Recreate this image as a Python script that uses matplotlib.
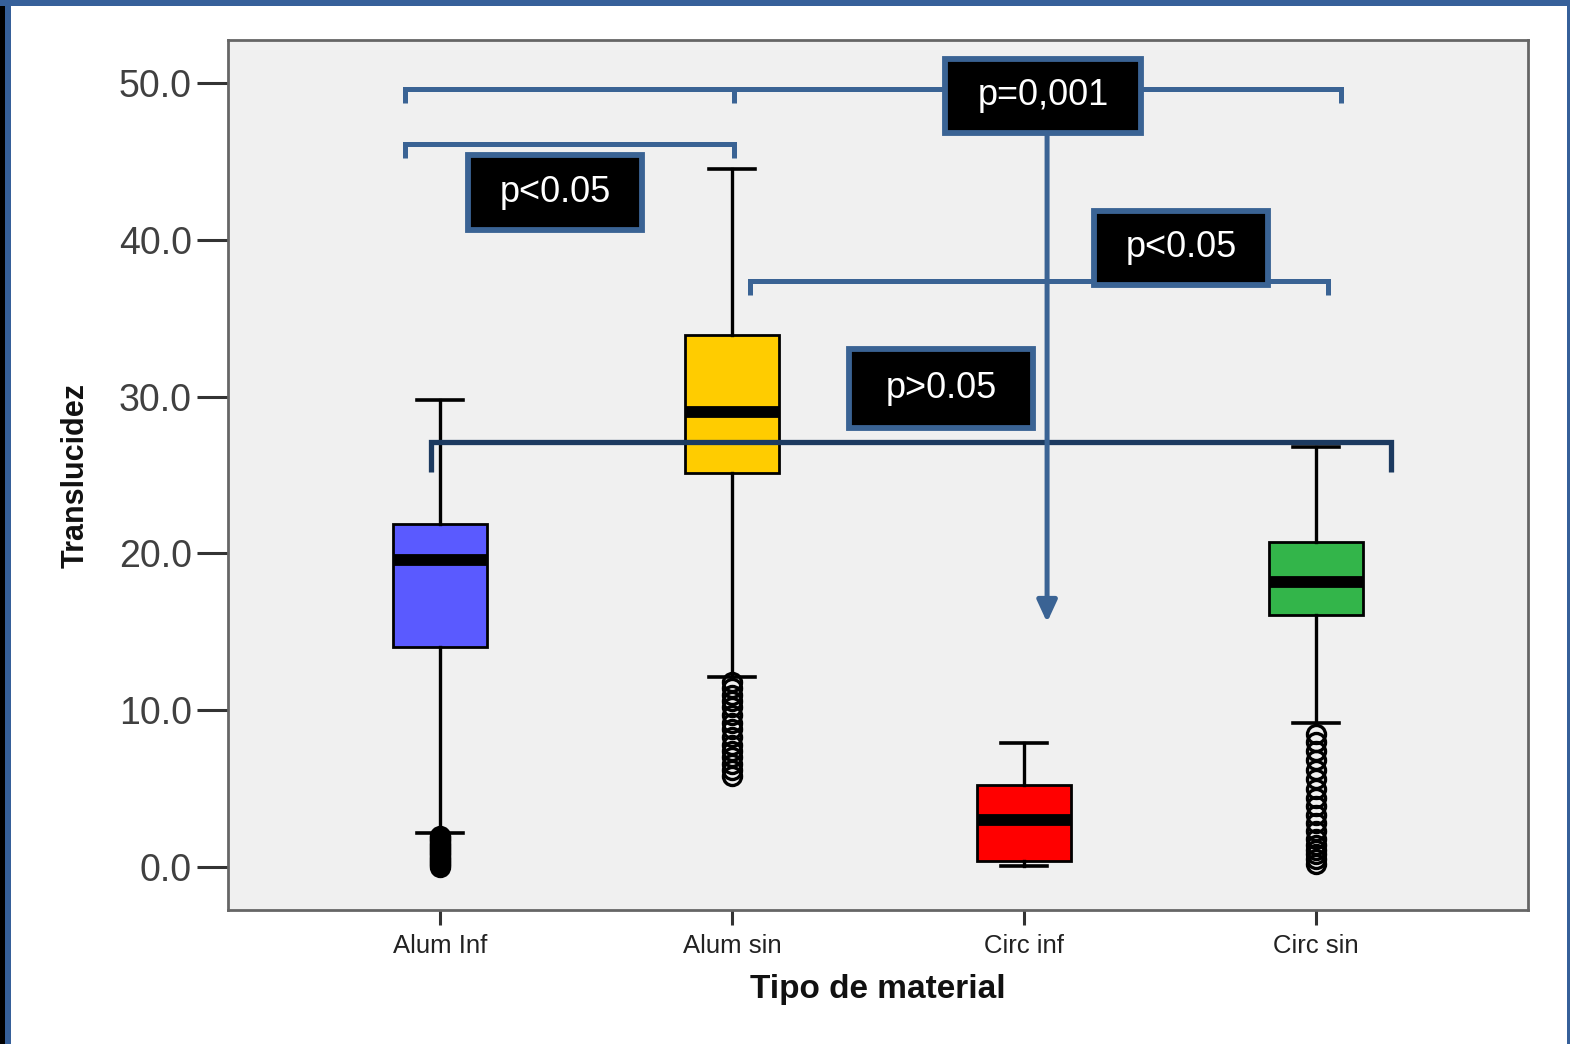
import matplotlib
matplotlib.use("Agg")
import matplotlib.pyplot as plt
import matplotlib.patches as mpatches

plt.rcParams["font.family"] = ["Liberation Sans", "DejaVu Sans"]

# Box summary (Translucidez)
categories = ["Alum Inf", "Alum sin", "Circ inf", "Circ sin"]
whisker_lo = [2.2, 12.1, 0.05, 9.2]
q1 = [14.0, 25.1, 0.4, 16.1]
median = [19.6, 29.0, 3.0, 18.2]
q3 = [21.9, 33.9, 5.2, 20.7]
whisker_hi = [29.8, 44.5, 7.9, 26.8]
fliers = [
    [0.0, 0.1, 0.2, 0.3, 0.4, 0.5, 0.6, 0.7, 0.8, 0.9, 1.0, 1.1, 1.2, 1.3,
     1.4, 1.5, 1.6, 1.7, 1.8, 1.9, 2.0],
    [5.8, 6.2, 6.6, 7.0, 7.4, 7.8, 8.3, 8.8, 9.2, 9.7, 10.2, 10.6, 11.0,
     11.4, 11.8],
    [],
    [0.2, 0.5, 0.8, 1.1, 1.4, 1.8, 2.3, 2.8, 3.3, 3.9, 4.4, 5.0, 5.6, 6.2,
     6.8, 7.4, 8.0, 8.5],
]
box_colors = ["#5a5aff", "#ffcc00", "#ff0000", "#33b54a"]

# Significance annotations: (x_left, x_right, y, tick_len, mid_ticks, color)
brackets = [
    (0.880, 4.086, 49.6, 0.9, [2.007], "#3a6394"),
    (0.880, 2.007, 46.1, 0.9, [], "#3a6394"),
    (2.062, 4.041, 37.4, 0.9, [], "#3a6394"),
    (0.969, 4.257, 27.1, 1.9, [], "#1c3a60"),
]
labels = [
    ("p=0,001", 3.065, 49.2, 0.668, 4.72),
    ("p<0.05", 1.394, 43.0, 0.599, 4.78),
    ("p<0.05", 3.538, 39.5, 0.596, 4.72),
    ("p>0.05", 2.716, 30.5, 0.630, 5.04),
]

fig = plt.figure(figsize=(15.7, 10.44), dpi=100, facecolor="white")
ax = fig.add_axes([228 / 1570, 1 - 910 / 1044, 1300 / 1570, 870 / 1044])
ax.set_facecolor("#f0f0f0")

stats = []
for i, name in enumerate(categories):
    stats.append({
        "label": name, "whislo": whisker_lo[i], "q1": q1[i], "med": median[i],
        "q3": q3[i], "whishi": whisker_hi[i], "fliers": fliers[i],
    })

positions = range(1, len(categories) + 1)
bp = ax.bxp(
    stats, positions=positions, widths=0.322, patch_artist=True,
    showfliers=True,
    boxprops=dict(edgecolor="black", linewidth=2.0),
    whiskerprops=dict(color="black", linewidth=2.4),
    capprops=dict(color="black", linewidth=2.6),
    capwidths=0.16,
    medianprops=dict(color="black", linewidth=8.5, solid_capstyle="butt"),
    flierprops=dict(marker="o", markerfacecolor="none", markeredgecolor="black",
                    markersize=13, markeredgewidth=2.4),
)
for patch, c in zip(bp["boxes"], box_colors):
    patch.set_facecolor(c)

# brackets
for x0, x1, y, tl, mids, col in brackets:
    lw = 3.8 if col == "#1c3a60" else 3.6
    ax.plot([x0, x0, x1, x1], [y - tl, y, y, y - tl], color=col, lw=lw,
            solid_joinstyle="miter", solid_capstyle="butt", zorder=5)
    for xm in mids:
        ax.plot([xm, xm], [y, y - tl], color=col, lw=lw,
                solid_capstyle="butt", zorder=5)

# arrow from the p=0,001 label down towards Circ inf
ax.annotate("", xy=(3.079, 15.6), xytext=(3.079, 46.8),
            arrowprops=dict(arrowstyle="-|>,head_length=1.3,head_width=0.6",
                            color="#3a6394", lw=3.6, shrinkA=0, shrinkB=0),
            zorder=5)

for txt, cx, cy, w, h in labels:
    ax.add_patch(mpatches.Rectangle((cx - w / 2, cy - h / 2), w, h,
                                    facecolor="black", edgecolor="#3a6394",
                                    linewidth=4.2, zorder=6))
    ax.text(cx, cy, txt, ha="center", va="center", color="white",
            fontsize=26, zorder=7)

ax.set_xlim(0.274, 4.726)
ax.set_ylim(-2.74, 52.74)
ax.set_yticks([0, 10, 20, 30, 40, 50])
ax.set_yticklabels(["0.0", "10.0", "20.0", "30.0", "40.0", "50.0"])
ax.set_xticks(list(positions))
ax.set_xticklabels(categories)
ax.tick_params(axis="y", length=22, width=2.2, color="#333333",
               labelsize=27, labelcolor="#404040", pad=4)
ax.tick_params(axis="x", length=11, width=2.2, color="#333333",
               labelsize=18.5, labelcolor="#222222", pad=6)
for sp in ax.spines.values():
    sp.set_color("#666666")
    sp.set_linewidth(2.0)

ax.set_xlabel("Tipo de material", fontsize=24, fontweight="bold",
              color="#111111", labelpad=12)
ax.set_ylabel("Translucidez", fontsize=22, fontweight="bold",
              color="#111111", labelpad=20)

# slide frame
fig.patches.append(mpatches.Rectangle((0, 0), 5 / 1570, 1, transform=fig.transFigure,
                                      facecolor="black", edgecolor="none"))
fig.patches.append(mpatches.Rectangle((5 / 1570, 0), 6 / 1570, 1, transform=fig.transFigure,
                                      facecolor="#36609a", edgecolor="none"))
fig.patches.append(mpatches.Rectangle((0, 1 - 6 / 1044), 1, 6 / 1044, transform=fig.transFigure,
                                      facecolor="#36609a", edgecolor="none"))
fig.patches.append(mpatches.Rectangle((1 - 3 / 1570, 0), 3 / 1570, 1, transform=fig.transFigure,
                                      facecolor="#36609a", edgecolor="none"))

fig.savefig("out.png", dpi=100, facecolor=fig.get_facecolor())
